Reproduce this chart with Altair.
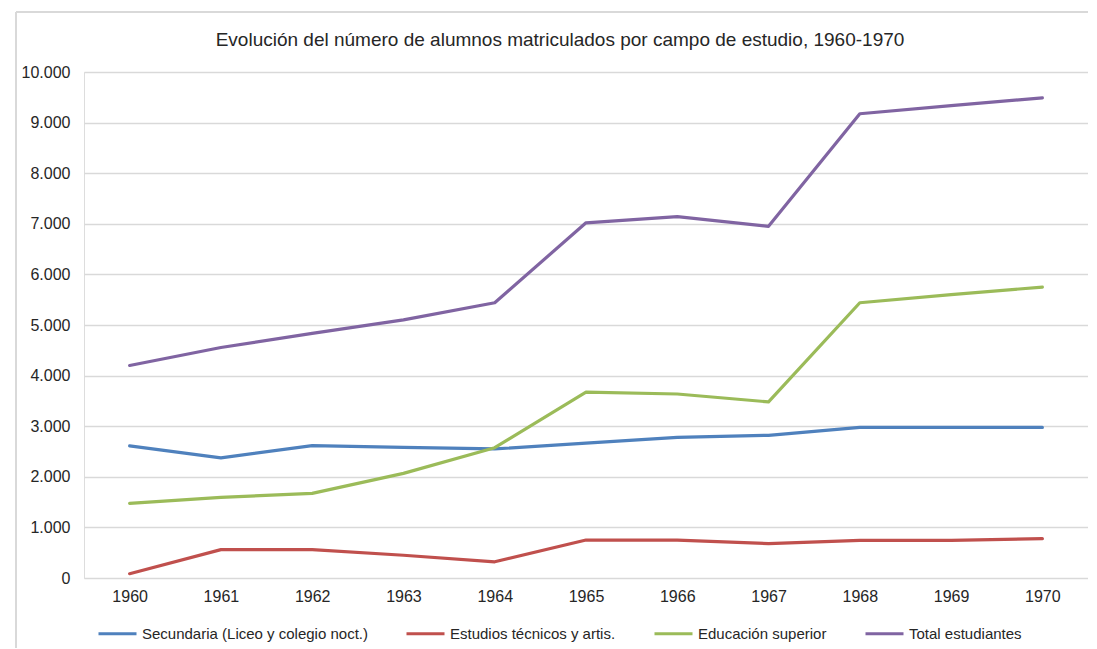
import altair as alt
import pandas as pd

years = ["1960", "1961", "1962", "1963", "1964", "1965", "1966", "1967", "1968", "1969", "1970"]
series_names = [
    "Secundaria (Liceo y colegio noct.)",
    "Estudios técnicos y artis.",
    "Educación superior",
    "Total estudiantes",
]
secundaria = [2610, 2375, 2615, 2580, 2550, 2665, 2780, 2820, 2975, 2975, 2975]
tecnicos = [85, 560, 560, 450, 320, 750, 750, 680, 745, 745, 778]
superior = [1475, 1595, 1673, 2068, 2575, 3675, 3636, 3480, 5440, 5600, 5750]
total = [4200, 4555, 4835, 5100, 5440, 7020, 7140, 6950, 9175, 9335, 9490]
colors = ["#4F81BD", "#C0504D", "#9BBB59", "#8064A2"]
title_text = "Evolución del número de alumnos matriculados por campo de estudio, 1960-1970"

rows = []
for name, vals in zip(series_names, [secundaria, tecnicos, superior, total]):
    for y, v in zip(years, vals):
        rows.append({"Año": y, "Serie": name, "Valor": v})
df = pd.DataFrame(rows)

FONT = "Liberation Sans"
TXT = "#262626"

lines = alt.Chart(df).mark_line(strokeWidth=3.2, strokeCap="round", strokeJoin="round").encode(
    x=alt.X("Año:O", sort=years,
            scale=alt.Scale(type="point", padding=0.5),
            axis=alt.Axis(title=None, labelAngle=0, ticks=False, tickSize=0, domain=False,
                          grid=False, labelPadding=10, labelFontSize=16,
                          labelFont=FONT, labelColor=TXT)),
    y=alt.Y("Valor:Q", scale=alt.Scale(domain=[0, 10000], nice=False),
            axis=alt.Axis(title=None, values=list(range(0, 10001, 1000)), ticks=False, tickSize=0,
                          domain=False, grid=True, gridColor="#D9D9D9", gridWidth=1.3,
                          labelPadding=14, labelFontSize=16, labelFont=FONT,
                          labelColor=TXT,
                          labelExpr="replace(format(datum.value, ','), ',', '.')")),
    color=alt.Color("Serie:N", sort=series_names,
                    scale=alt.Scale(domain=series_names, range=colors),
                    legend=alt.Legend(title=None, orient="none", direction="horizontal",
                                      legendX=13, legendY=541, symbolType="stroke",
                                      symbolSize=1444, symbolStrokeWidth=3,
                                      labelFontSize=15, labelFont=FONT, labelLimit=0,
                                      labelColor=TXT, columnPadding=32,
                                      labelOffset=4, columns=4)),
)

frame_left = alt.Chart(df).mark_rule(color="#D9D9D9", strokeWidth=1.5).encode(
    x=alt.value(-68), y=alt.value(-60), y2=alt.value(578))
frame_top = alt.Chart(df).mark_rule(color="#D9D9D9", strokeWidth=1.5).encode(
    x=alt.value(-68), x2=alt.value(1004), y=alt.value(-60))

title = alt.Chart(pd.DataFrame({"t": [title_text]})).mark_text(
    font=FONT, fontSize=19, color=TXT, align="center", baseline="middle").encode(
    text="t:N", x=alt.value(476), y=alt.value(-32))

chart = alt.layer(frame_left, frame_top, title, lines).properties(
    width=1004, height=506,
    autosize=alt.AutoSizeParams(type="none"),
    padding={"left": 76, "top": 64, "right": 0, "bottom": 70},
).configure_view(strokeWidth=0, stroke="transparent").configure(background="white")

chart.save("out.html", embed_options={"renderer": "svg", "actions": False})
